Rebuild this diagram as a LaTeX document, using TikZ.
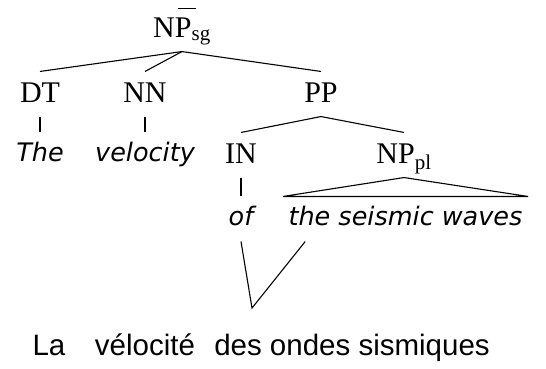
\documentclass[tikz,border=0pt]{standalone}
\usepackage{fontspec}
\setmainfont{Liberation Serif}
\newfontfamily\wordfont{DejaVu Sans}
\newfontfamily\glossfont{Liberation Sans}
\usetikzlibrary{calc}

\begin{document}
\begin{tikzpicture}[x=1pt,y=-1pt,line width=1.1pt,
cat/.style={font=\fontsize{30}{36}\selectfont,anchor=base,inner xsep=0pt,inner ysep=10pt,text height=20pt,text depth=4pt},
word/.style={font=\wordfont\itshape\fontsize{25.5}{30}\selectfont,anchor=base,inner xsep=0pt,inner ysep=10pt,text height=18pt,text depth=6pt},
gloss/.style={font=\glossfont\fontsize{29.5}{36}\selectfont,anchor=base,inner sep=0pt}]
\useasboundingbox (0,0) rectangle (546,368);
% tree labels
\node[cat] (NPsg) at (182,37) {NP\textsubscript{sg}};
\node[cat] (DT) at (40,102) {DT};
\node[cat] (NN) at (145,102) {NN};
\node[cat] (PP) at (321,102) {PP};
\node[cat] (IN) at (241,163) {IN};
\node[cat] (NPpl) at (404,163) {NP\textsubscript{pl}};
% english words
\node[word] (The) at (40,161) {The};
\node[word] (velocity) at (145,161) {velocity};
\node[word] (of) at (241,225) {of};
\node[word,anchor=base west] (waves) at (288,225) {the seismic waves};
% french words
\node[gloss] (La) at (49,355) {La};
\node[gloss] (velocite) at (145,355) {vélocité};
\node[gloss] (des) at (352,355) {des ondes sismiques};
\coordinate (the-end) at ($(waves.south west)!0.073!(waves.south east)$);
\coordinate (link) at (252,308);
\draw[line width=0.9pt] (178,8) -- (196,8);
\draw (NPsg.south) -- (DT.north);
\draw (NPsg.south) -- (NN.north);
\draw (NPsg.south) -- (PP.north);
\draw (DT.south) -- (The.north);
\draw (NN.south) -- (velocity.north);
\draw (PP.south) -- (IN.north);
\draw (PP.south) -- (NPpl.north);
\draw (IN.south) -- (of.north);
\draw (NPpl.south) -- ([xshift=-5pt]waves.north west) -- ([xshift=5pt]waves.north east) -- cycle;
\draw[line width=1.8pt] ([xshift=-5pt]waves.north west) -- ([xshift=5pt]waves.north east);
% alignment
\draw (of.south) -- (link) -- (the-end);
\end{tikzpicture}
\end{document}
